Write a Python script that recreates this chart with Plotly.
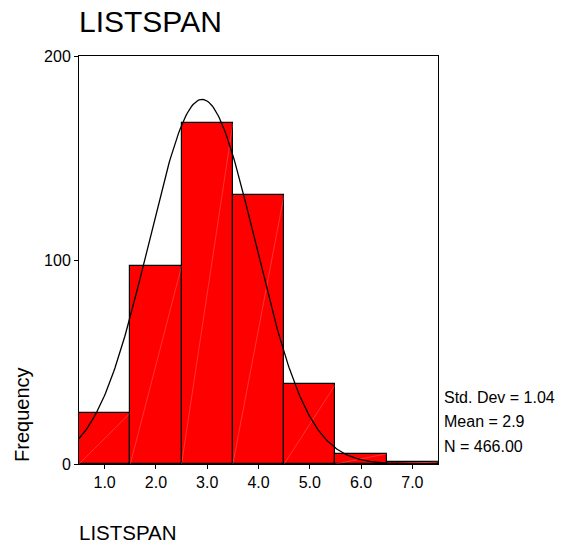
import numpy as np
import plotly.graph_objects as go

# Histogram of LISTSPAN (bin centres and counts)
bin_centers = [1.0, 2.0, 3.0, 4.0, 5.0, 6.0, 7.0]
counts = [25, 97, 167, 132, 39, 5, 1]
tick_labels = ["1.0", "2.0", "3.0", "4.0", "5.0", "6.0", "7.0"]

# Summary statistics shown beside the plot
std_dev = 1.04
mean = 2.9
n_cases = 466.00
bin_width = 1.0

FONT = "Liberation Sans, Arial, sans-serif"

fig = go.Figure()

fig.add_trace(go.Bar(
    x=bin_centers, y=counts, width=bin_width,
    marker=dict(color="#ff0000", line=dict(color="black", width=1.2)),
    hoverinfo="x+y", showlegend=False,
))

# faint diagonal highlight inside each bar (bottom-left to top-right)
dx, dy = [], []
for c, h in zip(bin_centers, counts):
    dx += [c - bin_width / 2, c + bin_width / 2, None]
    dy += [0, h, None]
fig.add_trace(go.Scatter(
    x=dx, y=dy, mode="lines",
    line=dict(color="rgba(255,170,170,0.6)", width=0.5),
    hoverinfo="skip", showlegend=False,
))

# normal curve scaled to counts
xs = np.linspace(0.5, 7.5, 300)
ys = n_cases * bin_width / (std_dev * np.sqrt(2 * np.pi)) * np.exp(-0.5 * ((xs - mean) / std_dev) ** 2)
fig.add_trace(go.Scatter(
    x=xs, y=ys, mode="lines",
    line=dict(color="black", width=1.3),
    hoverinfo="skip", showlegend=False,
))

stats_lines = [
    f"Std. Dev = {std_dev:.2f}",
    f"Mean = {mean:.1f}",
    f"N = {n_cases:.2f}",
]
stats_y = [0.164, 0.103, 0.042]
annotations = [
    dict(text=t, x=1.011, y=yy, xref="paper", yref="paper",
         xanchor="left", yanchor="middle", showarrow=False,
         font=dict(family=FONT, size=16, color="black"))
    for t, yy in zip(stats_lines, stats_y)
]
annotations.append(dict(
    text="Frequency", x=-0.159, y=0.1225, xref="paper", yref="paper",
    textangle=-90, xanchor="center", yanchor="middle", showarrow=False,
    font=dict(family=FONT, size=20, color="black")))
annotations.append(dict(
    text="LISTSPAN", x=-0.005, y=-0.167, xref="paper", yref="paper",
    xanchor="left", yanchor="middle", showarrow=False,
    font=dict(family=FONT, size=20.5, color="black")))

fig.update_layout(
    width=567, height=546,
    margin=dict(l=79, r=129, t=56, b=82),
    paper_bgcolor="white", plot_bgcolor="white",
    title=dict(text="LISTSPAN", x=79 / 567, xanchor="left",
               y=1 - 21 / 546, yanchor="middle", xref="container", yref="container",
               font=dict(family=FONT, size=30, color="black")),
    bargap=0,
    annotations=annotations,
    xaxis=dict(
        range=[0.5, 7.5], tickvals=bin_centers, ticktext=tick_labels,
        ticks="outside", ticklen=4, tickcolor="black",
        showline=True, linecolor="black", linewidth=1, mirror=True,
        showgrid=False, zeroline=False,
        tickfont=dict(family=FONT, size=16, color="black"),
    ),
    yaxis=dict(
        range=[0, 200], tickvals=[0, 100, 200],
        ticks="outside", ticklen=4, tickcolor="black",
        showline=True, linecolor="black", linewidth=1, mirror=True,
        showgrid=False, zeroline=False,
        tickfont=dict(family=FONT, size=16, color="black"),
    ),
)

fig.write_html("out.html")
